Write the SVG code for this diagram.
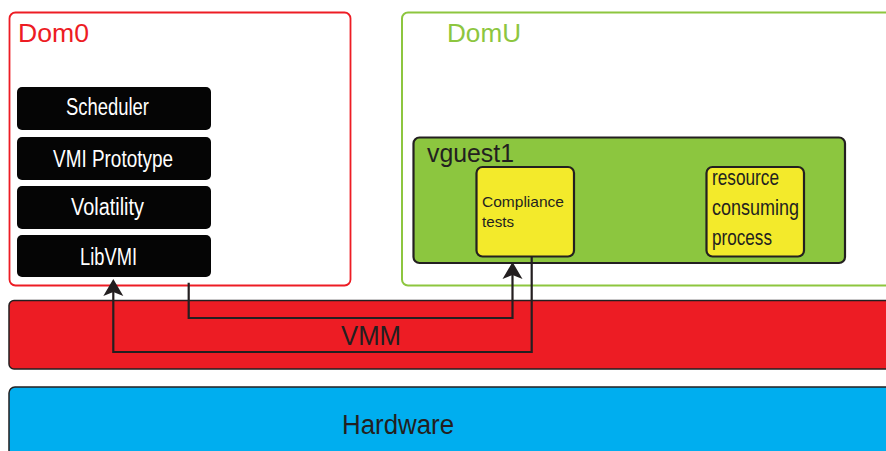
<svg xmlns="http://www.w3.org/2000/svg" width="886" height="451" viewBox="0 0 886 451">
  <style>
    text { font-family: "Liberation Sans", Arial, sans-serif; }
    .dom0 { fill: #fff; stroke: #ed1c24; stroke-width: 1.8; }
    .domu { fill: #fff; stroke: #8dc63f; stroke-width: 2; }
    .blk { fill: #050505; }
    .blk-t { fill: #fff; font-size: 23px; }
    .guest { fill: #8cc63f; stroke: #231f20; stroke-width: 2.2; }
    .proc { fill: #f3ea2b; stroke: #231f20; stroke-width: 2.2; }
    .dark { fill: #231f20; }
    .wire { fill: none; stroke: #231f20; stroke-width: 2.2; }
  </style>
  <defs>
    <!-- notched arrowhead; tip sits 8 units past the line end -->
    <marker id="arrow" markerUnits="userSpaceOnUse" markerWidth="30" markerHeight="30" viewBox="-15 -15 30 30" refX="0" refY="0" orient="auto" overflow="visible">
      <path d="M8 0 L-9 -10 L-5 0 L-9 10 Z" fill="#231f20"/>
    </marker>
  </defs>

  <!-- hypervisor and hardware layers -->
  <g id="hardware">
    <rect x="9" y="387" width="900" height="90" rx="6" fill="#00aeef" stroke="#231f20" stroke-width="1.5"/>
    <text x="342" y="434" font-size="27" textLength="112" lengthAdjust="spacingAndGlyphs" class="dark">Hardware</text>
  </g>
  <g id="vmm">
    <rect x="9" y="300.5" width="900" height="68.5" rx="5" fill="#ed1c24" stroke="#231f20" stroke-width="1.5"/>
    <text x="341" y="345" font-size="28" textLength="60" lengthAdjust="spacingAndGlyphs" class="dark">VMM</text>
  </g>

  <!-- privileged domain -->
  <g id="dom0">
    <rect x="9.5" y="12.5" width="341" height="273" rx="6" class="dom0"/>
    <text x="18" y="42" font-size="26" fill="#ed1c24" textLength="71" lengthAdjust="spacingAndGlyphs">Dom0</text>
  </g>
  <g id="scheduler">
    <rect x="17" y="87" width="194" height="43" rx="5" class="blk"/>
    <text x="66" y="115" class="blk-t" textLength="83" lengthAdjust="spacingAndGlyphs">Scheduler</text>
  </g>
  <g id="vmi-prototype">
    <rect x="17" y="137" width="194" height="43" rx="5" class="blk"/>
    <text x="53" y="166.5" class="blk-t" textLength="120" lengthAdjust="spacingAndGlyphs">VMI Prototype</text>
  </g>
  <g id="volatility">
    <rect x="17" y="186" width="194" height="43" rx="5" class="blk"/>
    <text x="71" y="215" class="blk-t" textLength="73" lengthAdjust="spacingAndGlyphs">Volatility</text>
  </g>
  <g id="libvmi">
    <rect x="17" y="235" width="194" height="42" rx="5" class="blk"/>
    <text x="80" y="265" class="blk-t" textLength="57" lengthAdjust="spacingAndGlyphs">LibVMI</text>
  </g>

  <!-- unprivileged domain -->
  <g id="domu">
    <rect x="402" y="12.5" width="520" height="273" rx="6" class="domu"/>
    <text x="447" y="42" font-size="26" fill="#8dc63f" textLength="74" lengthAdjust="spacingAndGlyphs">DomU</text>
  </g>
  <g id="vguest1">
    <rect x="413.5" y="137.5" width="431.5" height="125.5" rx="6" class="guest"/>
    <text x="427" y="162" font-size="26" class="dark" textLength="87" lengthAdjust="spacingAndGlyphs">vguest1</text>
  </g>
  <g id="compliance-tests">
    <rect x="476.5" y="167" width="97.5" height="89.5" rx="6" class="proc"/>
    <text x="482" y="207" font-size="15" class="dark" textLength="82" lengthAdjust="spacingAndGlyphs">Compliance</text>
    <text x="482" y="227" font-size="15" class="dark" textLength="32" lengthAdjust="spacingAndGlyphs">tests</text>
  </g>
  <g id="resource-process">
    <rect x="706.5" y="167" width="97.5" height="89.5" rx="6" class="proc"/>
    <text x="712" y="184.5" font-size="22" class="dark" textLength="67" lengthAdjust="spacingAndGlyphs">resource</text>
    <text x="712" y="214.5" font-size="22" class="dark" textLength="87" lengthAdjust="spacingAndGlyphs">consuming</text>
    <text x="712" y="244.5" font-size="22" class="dark" textLength="60" lengthAdjust="spacingAndGlyphs">process</text>
  </g>

  <!-- introspection paths through the hypervisor -->
  <g id="connectors">
    <path class="wire" d="M188.7 282.7 V318 H512.5 V270" marker-end="url(#arrow)"/>
    <path class="wire" d="M531.7 256.5 V352 H113.3 V287" marker-end="url(#arrow)"/>
  </g>
</svg>
